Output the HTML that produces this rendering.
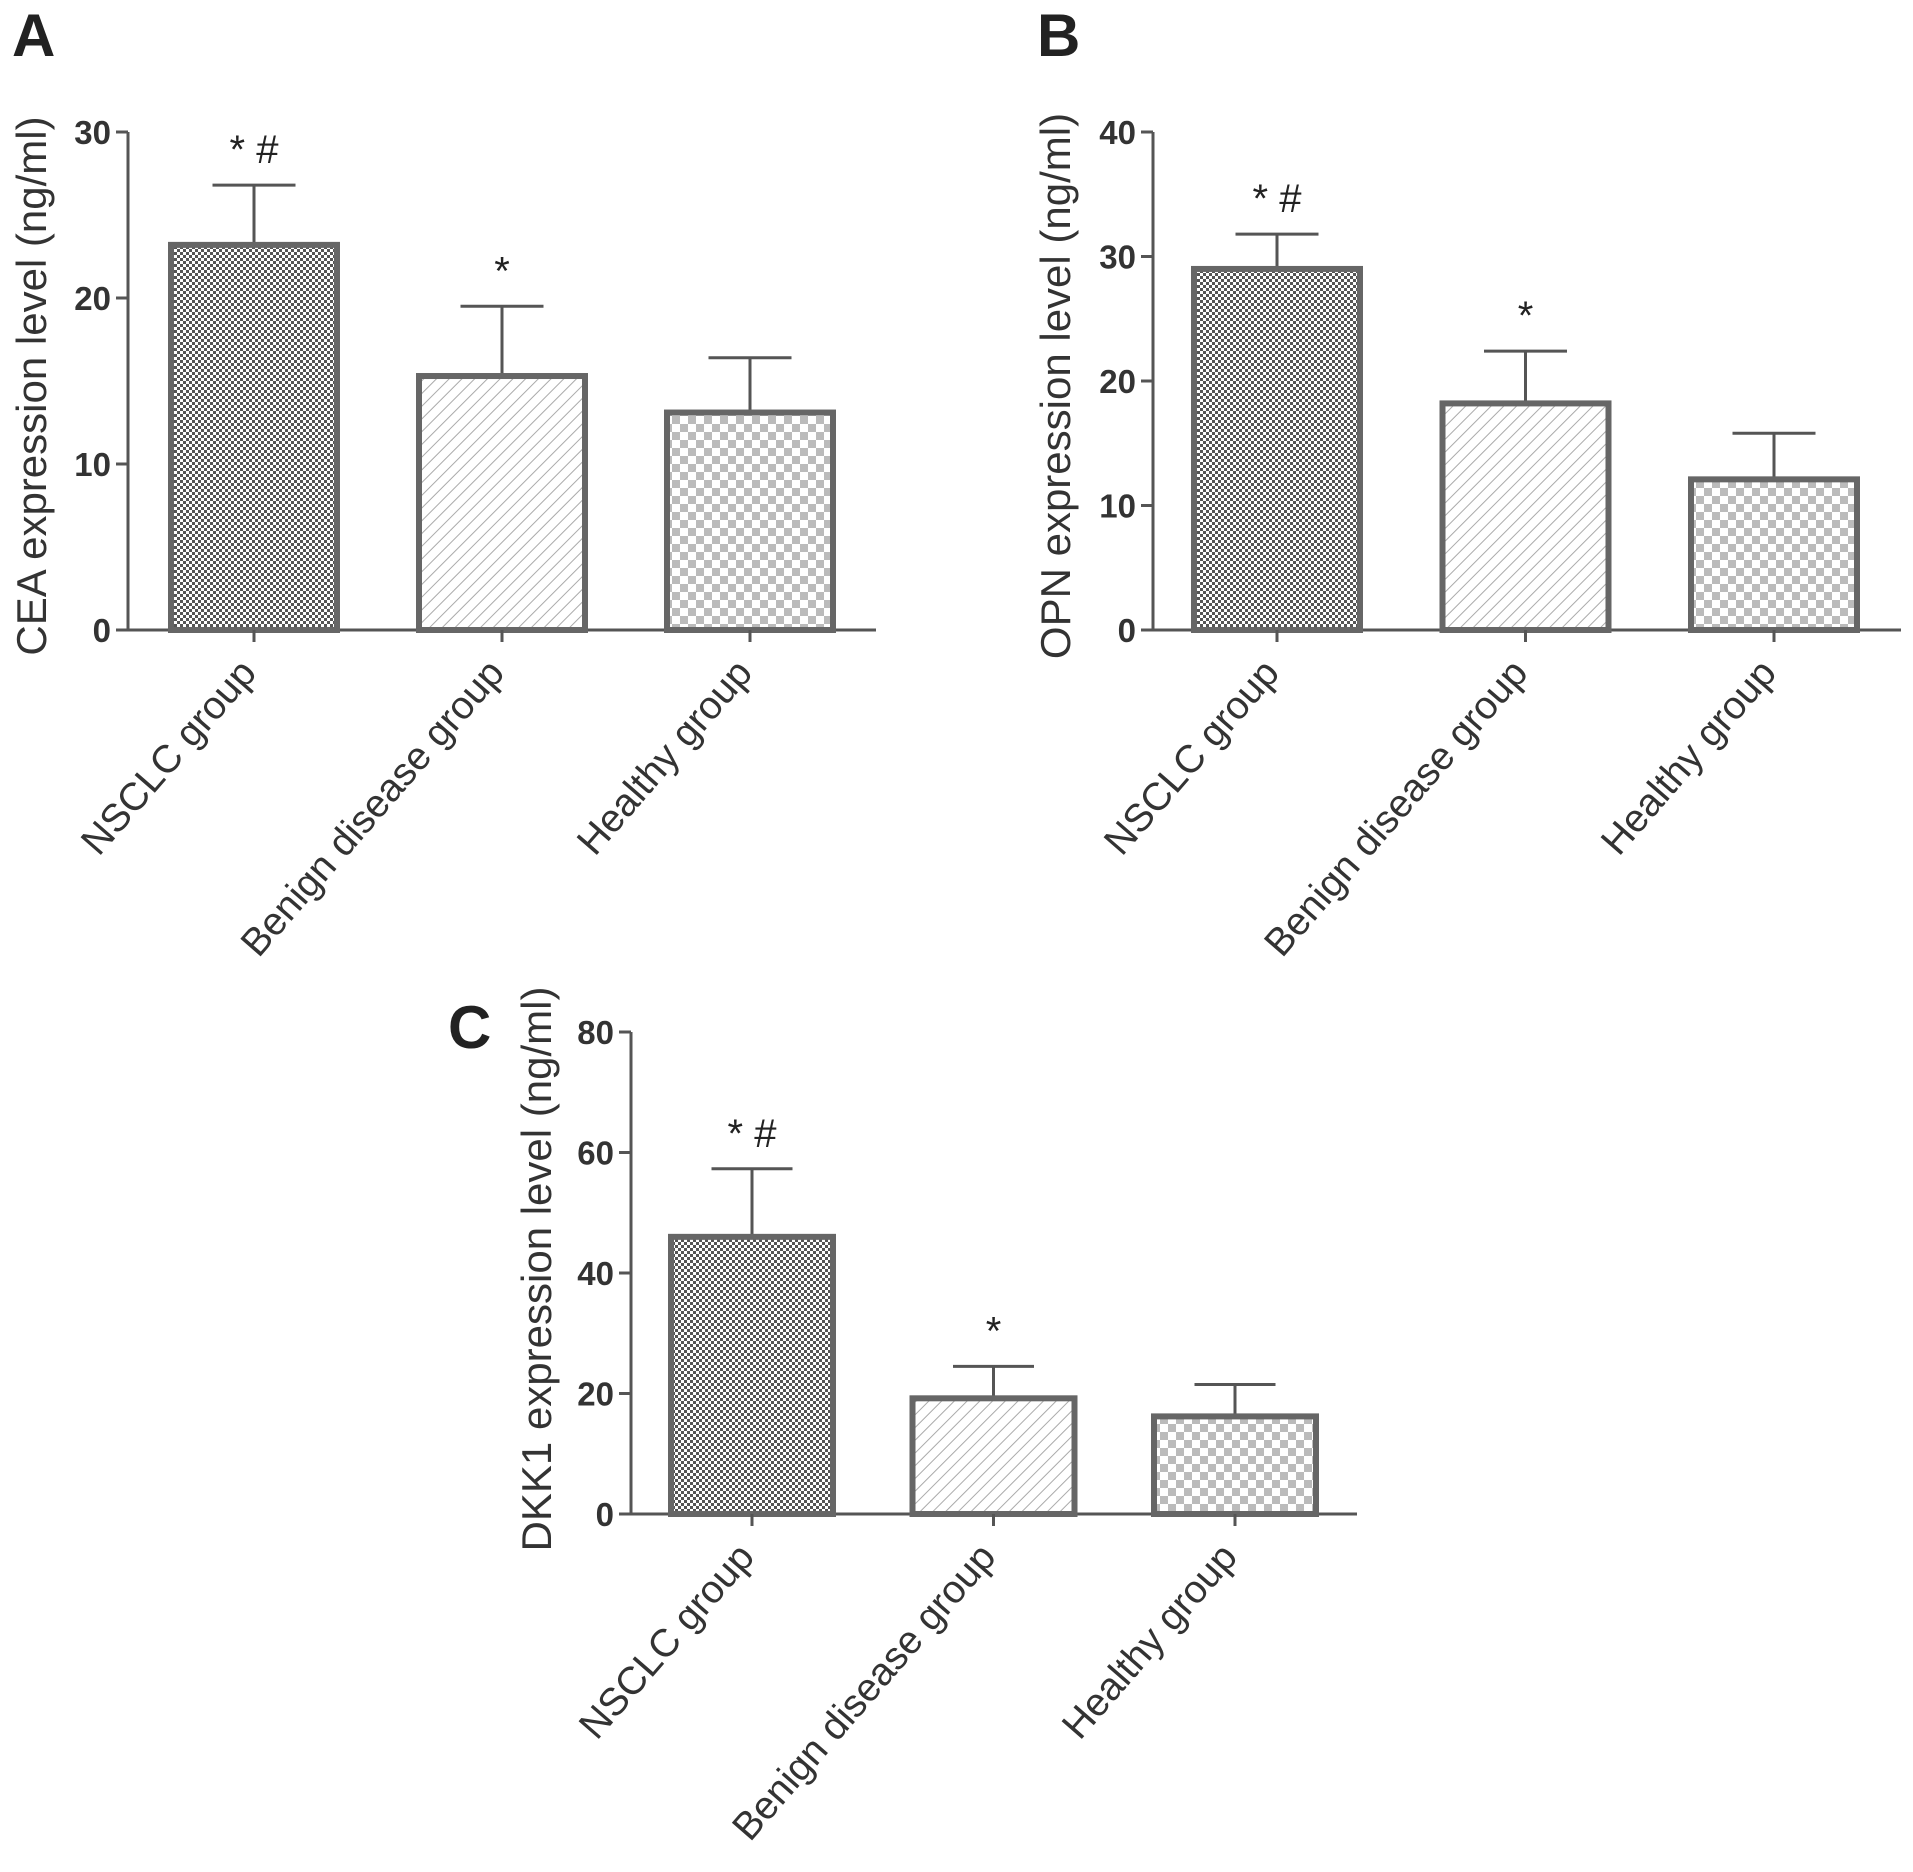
<!DOCTYPE html>
<html><head><meta charset="utf-8">
<style>
html,body{margin:0;padding:0;background:#fff;}
svg{display:block;font-family:"Liberation Sans",Arial,sans-serif;}
</style></head>
<body>
<svg id="fig" width="1913" height="1872" viewBox="0 0 1913 1872" xmlns="http://www.w3.org/2000/svg">
<defs>
<pattern id="pDots" width="6" height="6" patternUnits="userSpaceOnUse">
<rect width="6" height="6" fill="#fff"/><rect x="0" y="0" width="3" height="3" fill="#555"/><rect x="3" y="3" width="3" height="3" fill="#555"/>
</pattern>
<pattern id="pHatch" width="9" height="9" patternUnits="userSpaceOnUse" patternTransform="rotate(45)">
<rect width="9" height="9" fill="#fff"/><line x1="0" y1="0" x2="0" y2="9" stroke="#aaa" stroke-width="2"/>
</pattern>
<pattern id="pCheck" width="16" height="16" patternUnits="userSpaceOnUse">
<rect width="16" height="16" fill="#fff"/><rect x="0" y="0" width="8" height="8" fill="#bbb"/><rect x="8" y="8" width="8" height="8" fill="#bbb"/>
</pattern>
</defs>
</svg>
<script>
const categories = ["NSCLC group","Benign disease group","Healthy group"];
const ceaValues = [23.2, 15.3, 13.1];
const ceaErrors = [3.6, 4.2, 3.3];
const opnValues = [29.0, 18.2, 12.1];
const opnErrors = [2.8, 4.2, 3.7];
const dkkValues = [46.0, 19.2, 16.2];
const dkkErrors = [11.3, 5.3, 5.3];
const ceaTicks = [0,10,20,30];
const opnTicks = [0,10,20,30,40];
const dkkTicks = [0,20,40,60,80];
const annotations = ["*#","*",""];

const NS="http://www.w3.org/2000/svg";
const svg=document.getElementById('fig');
const fills=["url(#pDots)","url(#pHatch)","url(#pCheck)"];
function mk(tag,attrs,parent){const e=document.createElementNS(NS,tag);for(const k in attrs)e.setAttribute(k,attrs[k]);(parent||svg).appendChild(e);return e;}

function panel(cfg){
  const g=mk('g',{});
  
  
  const yMax=cfg.ticks[cfg.ticks.length-1];
  const y=v=>cfg.y0-(v/yMax)*(cfg.y0-cfg.yTop);
  const x=i=>cfg.c0+i*cfg.step;
  const col="#555";
  const L=mk('text',{x:cfg.lx,y:cfg.ly,'font-size':60,'font-weight':'bold',fill:'#222'},g);L.textContent=cfg.letter;
  
  
  const ya=mk('line',{x1:cfg.ax,y1:cfg.yTop,x2:cfg.ax,y2:cfg.y0,stroke:col,'stroke-width':3},g);
  
  
  cfg.ticks.forEach(t=>{
    mk('line',{x1:cfg.ax-12,y1:y(t),x2:cfg.ax,y2:y(t),stroke:col,'stroke-width':3},g);
    const tt=mk('text',{x:cfg.ax-17,y:y(t)+12,'font-size':33,'text-anchor':'end',fill:'#333','font-weight':'bold'},g);
    tt.textContent=t;
    
    
  });
  const xa=mk('line',{x1:cfg.ax-12,y1:cfg.y0,x2:cfg.xEnd,y2:cfg.y0,stroke:col,'stroke-width':3},g);
  
  
  const yt=mk('text',{x:0,y:0,'font-size':42,'text-anchor':'middle',fill:'#333',transform:`translate(${cfg.tx},${cfg.ty}) rotate(-90)`},g);
  yt.textContent=cfg.title;
  
  
  categories.forEach((c,i)=>{
    const cx=x(i),v=cfg.values[i],e=cfg.errors[i],w=cfg.bw;
    const el=mk('line',{x1:cx,y1:y(v),x2:cx,y2:y(v+e),stroke:col,'stroke-width':3},g);
    
    
    mk('line',{x1:cx-w*0.25,y1:y(v+e),x2:cx+w*0.25,y2:y(v+e),stroke:col,'stroke-width':3},g);
    const b=mk('rect',{x:cx-w/2,y:y(v),width:w,height:cfg.y0-y(v),fill:fills[i],stroke:'#666','stroke-width':6},g);
    
    
    mk('line',{x1:cx,y1:cfg.y0,x2:cx,y2:cfg.y0+12,stroke:col,'stroke-width':3},g);
    const lb=mk('text',{x:0,y:0,'font-size':39,'text-anchor':'end',fill:'#333',transform:`translate(${cx+4},${cfg.y0+44}) rotate(-49)`},g);
    lb.textContent=c;
    
    
    if(annotations[i]){
      const a=mk('text',{x:cx,y:y(v+e)-22,'font-size':40,'text-anchor':'middle',fill:'#222'},g);
      a.textContent=annotations[i]==="*#"?"* #":"*";
      
      
    }
  });
}
panel({name:'panel-a-cea',letter:'A',lx:12,ly:56,ax:128,y0:630,yTop:132,xEnd:876,c0:254,step:248,bw:166,ticks:ceaTicks,values:ceaValues,errors:ceaErrors,title:'CEA expression level (ng/ml)',tx:46,ty:386});
panel({name:'panel-b-opn',letter:'B',lx:1037,ly:56,ax:1153,y0:630,yTop:132,xEnd:1901,c0:1277,step:248.5,bw:166,ticks:opnTicks,values:opnValues,errors:opnErrors,title:'OPN expression level (ng/ml)',tx:1070,ty:386});
panel({name:'panel-c-dkk1',letter:'C',lx:448,ly:1048,ax:631,y0:1514,yTop:1032,xEnd:1357,c0:752,step:241.5,bw:162,ticks:dkkTicks,values:dkkValues,errors:dkkErrors,title:'DKK1 expression level (ng/ml)',tx:551,ty:1269});
</script>
</body></html>
